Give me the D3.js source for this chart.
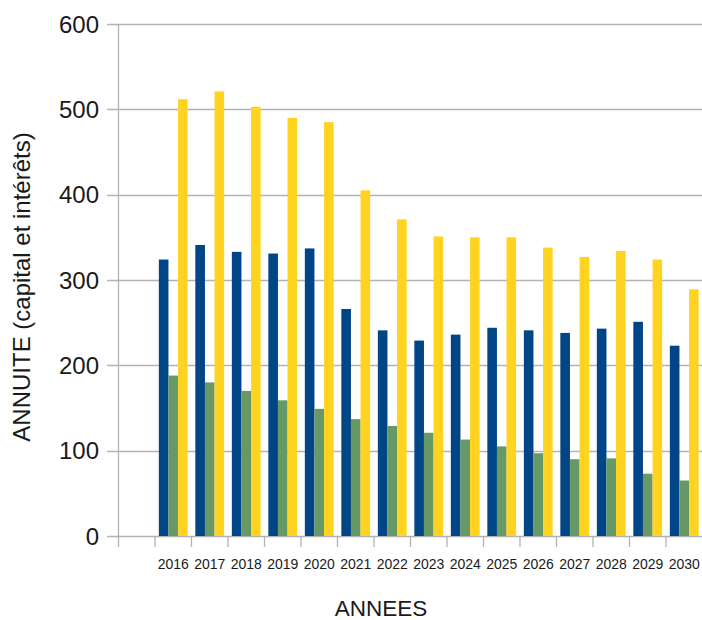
<!DOCTYPE html>
<html><head><meta charset="utf-8">
<script src="https://cdn.jsdelivr.net/npm/d3@7"></script>
<style>
html,body{margin:0;padding:0;background:#fff;}
text{font-family:"Liberation Sans",Arial,sans-serif;fill:#1a1a1a;}
</style></head>
<body>
<script>
const categories = ["", "2016","2017","2018","2019","2020","2021","2022","2023","2024","2025","2026","2027","2028","2029","2030"];
const seriesBlue   = [null, 324, 341, 333, 331, 337, 266, 241, 229, 236, 244, 241, 238, 243, 251, 223];
const seriesGreen  = [null, 188, 180, 170, 159, 149, 137, 129, 121, 113, 105, 97, 90, 91, 73, 65];
const seriesYellow = [null, 512, 521, 503, 490, 485, 405, 371, 351, 350, 350, 338, 327, 334, 324, 289];
const yTicks = [0, 100, 200, 300, 400, 500, 600];
const seriesNames = ["blue","green","yellow"];
const colors = {blue:"#004586", green:"#669966", yellow:"#ffd320"};

const W = 702, H = 620;
const svg = d3.select("body").append("svg").attr("width", W).attr("height", H);
const pLeft = 118.5, pRight = 702.5, pTop = 24, pBottom = 536;

const x = d3.scaleBand().domain(categories.map((c,i)=>i)).range([pLeft, pRight]).paddingInner(0).paddingOuter(0);
const xInner = d3.scaleBand().domain(seriesNames).range([0, x.bandwidth()]).paddingOuter(0.4).paddingInner(0);
const y = d3.scaleLinear().domain([0, 600]).range([pBottom, pTop]);

// gridlines
svg.append("g").selectAll("line").data(yTicks).join("line")
  .attr("x1", pLeft - 11.5).attr("x2", W)
  .attr("y1", d => Math.round(y(d)) + 0.5).attr("y2", d => Math.round(y(d)) + 0.5)
  .attr("stroke", "#b3b3b3").attr("stroke-width", 1.3);

// y axis line
svg.append("line").attr("x1", pLeft).attr("x2", pLeft).attr("y1", pTop).attr("y2", pBottom)
  .attr("stroke", "#b3b3b3").attr("stroke-width", 1.3);

// x tick marks
svg.append("g").selectAll("line").data(categories.map((c,i)=>i)).join("line")
  .attr("x1", d => x(d)).attr("x2", d => x(d))
  .attr("y1", pBottom).attr("y2", pBottom + 11)
  .attr("stroke", "#b3b3b3").attr("stroke-width", 1.3);

// bars
const data = {blue: seriesBlue, green: seriesGreen, yellow: seriesYellow};
seriesNames.forEach(s => {
  svg.append("g").selectAll("rect")
    .data(categories.map((c,i)=>({i, v:data[s][i]})).filter(d => d.v != null))
    .join("rect")
    .attr("x", d => x(d.i) + xInner(s))
    .attr("width", xInner.bandwidth())
    .attr("y", d => y(d.v))
    .attr("height", d => y(0) - y(d.v))
    .attr("fill", colors[s]);
});

// y tick labels
svg.append("g").selectAll("text").data(yTicks).join("text")
  .attr("x", 99).attr("y", d => y(d) + 8.5)
  .attr("text-anchor", "end").attr("font-size", 24).text(d => d);

// x tick labels
svg.append("g").selectAll("text").data(categories.map((c,i)=>({c,i})).filter(d=>d.c)).join("text")
  .attr("x", d => x(d.i) + x.bandwidth()/2).attr("y", 569)
  .attr("text-anchor", "middle").attr("font-size", 14).text(d => d.c);

// axis titles
svg.append("text").attr("x", 381).attr("y", 616).attr("text-anchor","middle")
  .attr("font-size", 22.5).text("ANNEES");
svg.append("text").attr("transform", "translate(30,287) rotate(-90)")
  .attr("text-anchor","middle").attr("font-size", 24).text("ANNUITE (capital et intérêts)");
</script>
</body></html>
